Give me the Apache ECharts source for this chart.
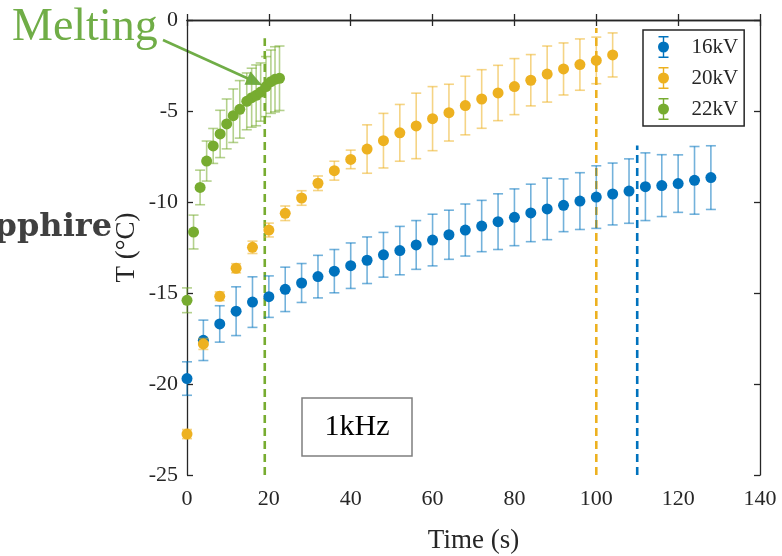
<!DOCTYPE html>
<html>
<head>
<meta charset="utf-8">
<script src="https://cdn.jsdelivr.net/npm/echarts@6/dist/echarts.min.js"></script>
<style>html,body{margin:0;padding:0;background:#fff}#c{width:782px;height:556px}</style>
</head>
<body>
<div id="c"></div>
<script>
// ---- data ----
const times16 = [0,4,8,12,16,20,24,28,32,36,40,44,48,52,56,60,64,68,72,76,80,84,88,92,96,100,104,108,112,116,120,124,128];
const values16 = [-19.7,-17.6,-16.7,-16.0,-15.5,-15.2,-14.8,-14.45,-14.1,-13.8,-13.5,-13.2,-12.9,-12.67,-12.36,-12.09,-11.8,-11.54,-11.32,-11.08,-10.84,-10.6,-10.38,-10.18,-9.95,-9.73,-9.56,-9.4,-9.16,-9.1,-8.99,-8.81,-8.66];
const err16 = [0.92,1.11,1.0,1.34,1.39,1.14,1.22,1.07,1.17,1.19,1.25,1.28,1.23,1.33,1.34,1.42,1.35,1.43,1.41,1.53,1.56,1.58,1.69,1.45,1.56,1.72,1.70,1.77,1.86,1.70,1.58,1.86,1.75];

const times20 = [0,4,8,12,16,20,24,28,32,36,40,44,48,52,56,60,64,68,72,76,80,84,88,92,96,100,104];
const values20 = [-22.75,-17.8,-15.18,-13.64,-12.49,-11.54,-10.62,-9.78,-8.97,-8.28,-7.66,-7.09,-6.63,-6.2,-5.82,-5.42,-5.09,-4.7,-4.34,-4.01,-3.66,-3.31,-2.97,-2.69,-2.45,-2.22,-1.92];
const err20 = [0.25,0.3,0.24,0.25,0.34,0.38,0.4,0.4,0.4,0.52,0.51,1.33,1.5,1.56,1.8,1.76,1.56,1.61,1.61,1.52,1.54,1.41,1.54,1.43,1.41,1.28,1.21];

const times22 = [0,1.6,3.2,4.8,6.4,8.1,9.7,11.3,12.9,14.6,15.8,16.9,18.0,19.3,20.5,21.5,22.6];
const values22 = [-15.4,-11.65,-9.2,-7.75,-6.92,-6.26,-5.71,-5.26,-4.91,-4.47,-4.27,-4.14,-3.96,-3.66,-3.39,-3.26,-3.2];
const err22 = [0.68,0.93,0.95,1.1,0.96,1.3,1.37,1.47,1.58,1.56,1.62,1.67,1.6,1.65,1.74,1.79,1.77];

const seriesNames = ['16kV','20kV','22kV'];
const seriesColors = ['#0072BD','#EDB120','#77AC30'];
const refLineTimes = [19,100,110];
const refLineTops = [-1.0,-0.44,-6.9];
const refLineColors = ['#77AC30','#EDB120','#0072BD'];
const xTicks = {min:0,max:140,interval:20};
const yTicks = {min:-25,max:0,interval:5};

// ---- build ----
const FONT = '"Liberation Serif","Times New Roman",serif';
const TXT = '#262626';
const chart = echarts.init(document.getElementById('c'), null, {renderer:'canvas'});

function pts(t,v){ return t.map((x,i)=>[x,v[i]]); }
function errs(t,v,e){ return t.map((x,i)=>[x,v[i]-e[i],v[i]+e[i]]); }

function errRender(color){
  return function(params, api){
    const x = api.value(0), lo = api.value(1), hi = api.value(2);
    const p1 = api.coord([x,hi]), p2 = api.coord([x,lo]);
    const hw = 5;
    const st = {stroke: color, lineWidth: 1.6, opacity: 0.55};
    return {type:'group', children:[
      {type:'line', shape:{x1:p1[0],y1:p1[1],x2:p2[0],y2:p2[1]}, style:st},
      {type:'line', shape:{x1:p1[0]-hw,y1:p1[1],x2:p1[0]+hw,y2:p1[1]}, style:st},
      {type:'line', shape:{x1:p2[0]-hw,y1:p2[1],x2:p2[0]+hw,y2:p2[1]}, style:st}
    ]};
  };
}

const allT = [times16,times20,times22], allV=[values16,values20,values22], allE=[err16,err20,err22];
const series = [];
// reference dashed lines
refLineTimes.forEach((t,i)=>{
  series.push({type:'line', name:'ref'+i, data:[[t,yTicks.min],[t,refLineTops[i]]], symbol:'none',
    lineStyle:{color:refLineColors[i], width:2.6, type:[8,5]}, silent:true, z:1});
});
for(let k=0;k<3;k++){
  series.push({type:'custom', name:seriesNames[k], renderItem:errRender(seriesColors[k]),
    data:errs(allT[k],allV[k],allE[k]), itemStyle:{color:seriesColors[k]}, z:2+k*2, clip:false});
  series.push({type:'scatter', name:seriesNames[k], data:pts(allT[k],allV[k]), symbol:'circle', symbolSize:11,
    itemStyle:{color:seriesColors[k], opacity:1}, z:3+k*2});
}

const iconPath = 'path://M3,0H13V1.4H3Z M7.3,0H8.7V22H7.3Z M3,20.6H13V22H3Z M8,5.5A5.5,5.5,0,1,1,7.99,5.5Z';

const axisLineStyle = {color:TXT, width:1.3};
const option = {
  animation:false,
  backgroundColor:'#fff',
  grid:{left:187, right:22, top:20, bottom:81, containLabel:false, outerBoundsMode:'none'},
  xAxis:[
    {type:'value', min:xTicks.min, max:xTicks.max, interval:xTicks.interval, position:'bottom',
     axisLine:{show:true, lineStyle:axisLineStyle}, axisTick:{show:true, inside:true, length:6, lineStyle:axisLineStyle},
     axisLabel:{color:TXT, fontFamily:FONT, fontSize:22, margin:13, showMinLabel:true, showMaxLabel:true, hideOverlap:false},
     splitLine:{show:false},
     name:'Time (s)', nameLocation:'middle', nameGap:52, nameMoveOverlap:false, nameTextStyle:{color:TXT, fontFamily:FONT, fontSize:27}},
    {type:'value', min:xTicks.min, max:xTicks.max, interval:xTicks.interval, position:'top',
     axisLine:{show:true, onZero:false, lineStyle:axisLineStyle}, axisTick:{show:true, inside:true, length:6, lineStyle:axisLineStyle},
     axisLabel:{show:false}, splitLine:{show:false}}
  ],
  yAxis:[
    {type:'value', min:yTicks.min, max:yTicks.max, interval:yTicks.interval, position:'left',
     axisLine:{show:true, onZero:false, lineStyle:axisLineStyle}, axisTick:{show:true, inside:true, length:6, lineStyle:axisLineStyle},
     axisLabel:{color:TXT, fontFamily:FONT, fontSize:22, margin:9, showMinLabel:true, showMaxLabel:true, hideOverlap:false},
     splitLine:{show:false},
     name:'T (°C)', nameLocation:'middle', nameGap:47, nameMoveOverlap:false, nameTextStyle:{color:TXT, fontFamily:FONT, fontSize:27}},
    {type:'value', min:yTicks.min, max:yTicks.max, interval:yTicks.interval, position:'right',
     axisLine:{show:true, onZero:false, lineStyle:axisLineStyle}, axisTick:{show:true, inside:true, length:6, lineStyle:axisLineStyle},
     axisLabel:{show:false}, splitLine:{show:false}}
  ],
  legend:{
    data:seriesNames.map(n=>({name:n, icon:iconPath})),
    orient:'vertical', left:643, top:30, selectedMode:false,
    itemWidth:16, itemHeight:22, itemGap:9,
    padding:[6,6,6,15],
    borderColor:TXT, borderWidth:1.5, backgroundColor:'#fff',
    textStyle:{color:TXT, fontFamily:FONT, fontSize:21, padding:[0,0,0,15]}
  },
  series:series,
  graphic:[
    {type:'text', left:12, top:5, style:{text:'Melting', fill:'#70AD47', font:'46px '+FONT}},
    {type:'line', shape:{x1:163,y1:40,x2:249,y2:79}, style:{stroke:'#70AD47', lineWidth:2.5}},
    {type:'polygon', shape:{points:[[262,85],[244.5,84.8],[250.5,71.5]]}, style:{fill:'#70AD47'}},
    {type:'text', x:112, y:212, style:{text:'Sapphire', fill:'#404040', font:'bold 32px "DejaVu Serif",serif', align:'right', verticalAlign:'alphabetic'}},
    {type:'rect', shape:{x:302, y:398, width:110, height:58}, style:{fill:'#fff', stroke:'#7f7f7f', lineWidth:1.5}, z:10},
    {type:'text', x:357, y:427, style:{text:'1kHz', fill:'#000', font:'30px '+FONT, align:'center', verticalAlign:'middle'}, z:11}
  ]
};
chart.setOption(option);
</script>
</body>
</html>
